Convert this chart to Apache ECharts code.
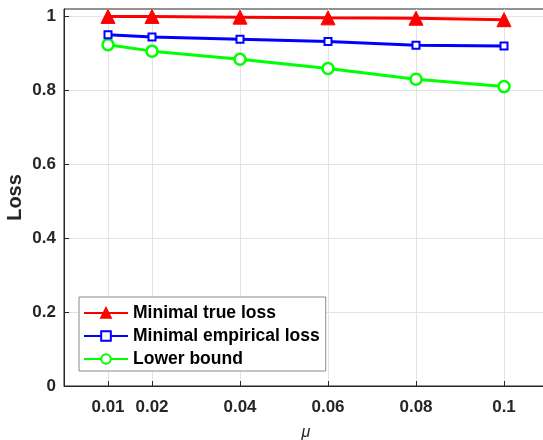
<!DOCTYPE html>
<html><head><meta charset="utf-8">
<script src="https://cdn.jsdelivr.net/npm/echarts@6/dist/echarts.min.js"></script>
<style>html,body{margin:0;padding:0;background:#fff}#c{width:543px;height:440px}</style>
</head><body><div id="c"></div>
<script>
const mu = [0.01, 0.02, 0.04, 0.06, 0.08, 0.1];
const trueLoss = [1.0, 1.0, 0.998, 0.996, 0.995, 0.991];
const empLoss = [0.950, 0.944, 0.938, 0.932, 0.922, 0.920];
const lowerBound = [0.923, 0.906, 0.884, 0.859, 0.830, 0.810];
const yTicks = [0, 0.2, 0.4, 0.6, 0.8, 1];
const seriesNames = ['Minimal true loss', 'Minimal empirical loss', 'Lower bound'];

const font = 'Liberation Sans, Arial, Helvetica, sans-serif';
const pair = (arr) => mu.map((x, i) => [x, arr[i]]);
const chart = echarts.init(document.getElementById('c'), null, {renderer: 'canvas'});
chart.setOption({
  animation: false,
  backgroundColor: '#fff',
  grid: {left: 64, right: -5, top: 9, bottom: 54, outerBoundsMode: 'none', containLabel: false,
    show: true, borderColor: '#262626', borderWidth: 1},
  legend: {
    left: 79, top: 297, orient: 'vertical', itemGap: 5, itemWidth: 44, itemHeight: 12,
    backgroundColor: '#fff', borderColor: '#8a8a8a', borderWidth: 1, padding: [7, 6, 3, 4],
    textStyle: {fontFamily: font, fontWeight: 'bold', fontSize: 17.5, color: '#000'},
    data: seriesNames
  },
  xAxis: {
    type: 'value', min: 0, max: 0.11,
    name: 'μ', nameLocation: 'middle', nameGap: 39, nameMoveOverlap: false,
    nameTextStyle: {fontFamily: font, fontStyle: 'italic', fontSize: 16, color: '#262626'},
    axisLine: {show: true, onZero: false, lineStyle: {color: '#262626', width: 1}},
    axisTick: {show: true, inside: true, length: 5, customValues: mu, lineStyle: {color: '#262626'}},
    axisLabel: {customValues: mu, fontFamily: font, fontWeight: 'bold', fontSize: 17, color: '#262626', margin: 13,
      formatter: v => String(+v.toFixed(3))},
    splitLine: {show: true, lineStyle: {color: '#e3e3e3', width: 1}}
  },
  yAxis: {
    type: 'value', min: 0, max: 1.02, interval: 0.2,
    name: 'Loss', nameLocation: 'middle', nameGap: 39, nameMoveOverlap: false,
    nameTextStyle: {fontFamily: font, fontWeight: 'bold', fontSize: 20, color: '#262626'},
    axisLine: {show: true, lineStyle: {color: '#262626', width: 1}},
    axisTick: {show: true, inside: true, length: 5, customValues: yTicks, lineStyle: {color: '#262626'}},
    axisLabel: {customValues: yTicks, fontFamily: font, fontWeight: 'bold', fontSize: 17, color: '#262626', margin: 8,
      formatter: v => String(+v.toFixed(2))},
    splitLine: {show: true, lineStyle: {color: '#e3e3e3', width: 1}}
  },
  series: [
    {name: seriesNames[0], type: 'line', data: pair(trueLoss), symbol: 'triangle', symbolSize: 14,
      lineStyle: {color: '#ff0000', width: 3}, itemStyle: {color: '#ff0000', borderColor: '#ff0000', borderWidth: 1}, z: 3},
    {name: seriesNames[1], type: 'line', data: pair(empLoss), symbol: 'rect', symbolSize: 7,
      lineStyle: {color: '#0000ff', width: 3}, itemStyle: {color: '#ffffff', borderColor: '#0000ff', borderWidth: 2}, z: 2},
    {name: seriesNames[2], type: 'line', data: pair(lowerBound), symbol: 'circle', symbolSize: 11,
      lineStyle: {color: '#00ff00', width: 3}, itemStyle: {color: '#ffffff', borderColor: '#00ff00', borderWidth: 2.5}, z: 1}
  ]
});
</script></body></html>
